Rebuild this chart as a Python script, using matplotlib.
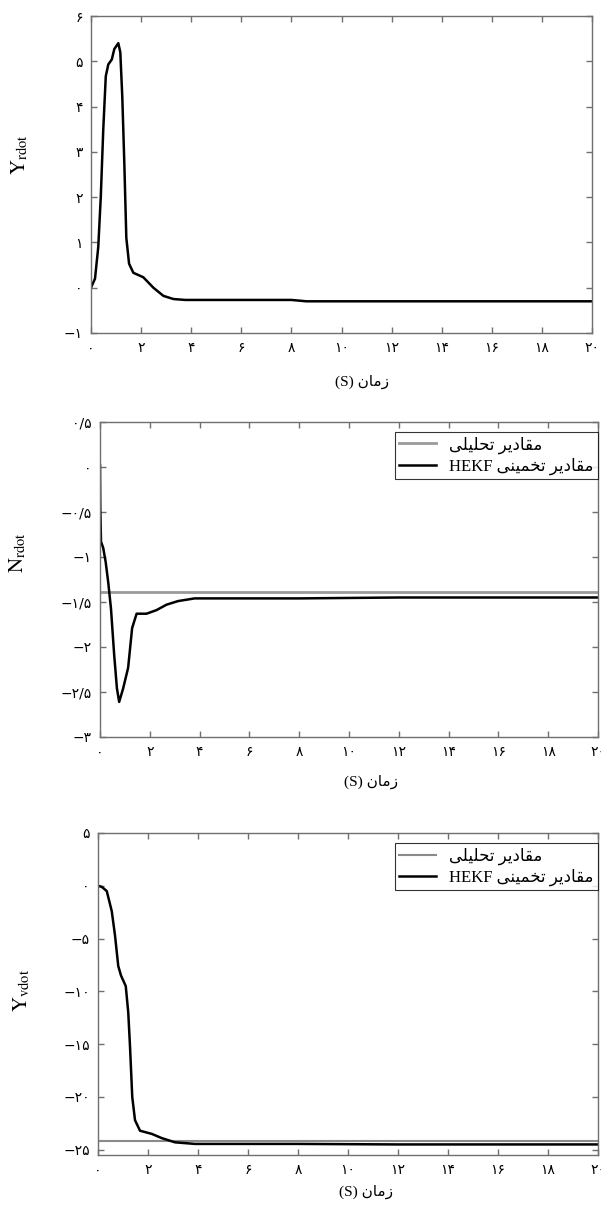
import matplotlib
matplotlib.use("Agg")
import matplotlib.pyplot as plt

# --- data ---
t_yr = [0, 0.16, 0.29, 0.39, 0.49, 0.59, 0.69, 0.83, 0.93, 1.09, 1.17, 1.25, 1.33, 1.41,
        1.52, 1.69, 2.09, 2.49, 2.89, 3.29, 3.76, 6.0, 8.0, 8.6, 20.0]
y_yr = [0, 0.2, 0.9, 2.0, 3.5, 4.67, 4.93, 5.04, 5.27, 5.4, 5.2, 4.2, 2.75, 1.1,
        0.53, 0.33, 0.23, 0.0, -0.18, -0.25, -0.27, -0.27, -0.27, -0.3, -0.3]

t_nr = [0, 0.01, 0.04, 0.13, 0.23, 0.33, 0.44, 0.57, 0.68, 0.77, 0.93, 1.13, 1.29, 1.47,
        1.87, 2.27, 2.67, 3.13, 3.8, 8.0, 12.0, 20.0]
y_nr = [0.02, -0.42, -0.83, -0.9, -1.06, -1.28, -1.57, -2.09, -2.46, -2.61, -2.46, -2.23,
        -1.79, -1.63, -1.63, -1.59, -1.53, -1.49, -1.46, -1.46, -1.45, -1.45]
nr_ref = -1.39

t_yv = [0, 0.15, 0.35, 0.55, 0.68, 0.81, 0.92, 1.11, 1.21, 1.28, 1.37, 1.48, 1.68, 2.15,
        2.55, 3.08, 3.88, 8.0, 12.0, 20.0]
y_yv = [0, -0.1, -0.5, -2.4, -4.7, -7.6, -8.5, -9.5, -12.0, -15.2, -20.0, -22.2, -23.2,
        -23.5, -23.9, -24.3, -24.45, -24.45, -24.5, -24.5]
yv_ref = -24.15

x_ticks = list(range(0, 21, 2))
yr_ticks = [-1, 0, 1, 2, 3, 4, 5, 6]
nr_ticks = [0.5, 0, -0.5, -1, -1.5, -2, -2.5, -3]
yv_ticks = [5, 0, -5, -10, -15, -20, -25]

# --- simple Persian shaping (matplotlib has no complex text layout) ---
FORMS = {
    'ا': ('\uFE8D', '\uFE8E', None, None),
    'ت': ('\uFE95', '\uFE96', '\uFE97', '\uFE98'),
    'ح': ('\uFEA1', '\uFEA2', '\uFEA3', '\uFEA4'),
    'خ': ('\uFEA5', '\uFEA6', '\uFEA7', '\uFEA8'),
    'د': ('\uFEA9', '\uFEAA', None, None),
    'ر': ('\uFEAD', '\uFEAE', None, None),
    'ز': ('\uFEAF', '\uFEB0', None, None),
    'ق': ('\uFED5', '\uFED6', '\uFED7', '\uFED8'),
    'ل': ('\uFEDD', '\uFEDE', '\uFEDF', '\uFEE0'),
    'م': ('\uFEE1', '\uFEE2', '\uFEE3', '\uFEE4'),
    'ن': ('\uFEE5', '\uFEE6', '\uFEE7', '\uFEE8'),
    'ی': ('\uFEEF', '\uFEF0', '\uFEF3', '\uFEF4'),
}


def rtl(text):
    out = []
    for i, c in enumerate(text):
        if c not in FORMS:
            out.append(c)
            continue
        prev = text[i - 1] if i > 0 else ''
        nxt = text[i + 1] if i + 1 < len(text) else ''
        pj = prev in FORMS and FORMS[prev][2] is not None
        nj = nxt in FORMS and FORMS[c][2] is not None
        iso, fin, ini, med = FORMS[c]
        if pj and nj:
            out.append(med)
        elif pj:
            out.append(fin)
        elif nj:
            out.append(ini)
        else:
            out.append(iso)
    return ''.join(out)[::-1]


FA = str.maketrans('0123456789.', '۰۱۲۳۴۵۶۷۸۹/')


def fa_num(v):
    s = ('%g' % abs(v)).translate(FA)
    return ('\u2212' + s) if v < 0 else s


plt.rcParams['mathtext.fontset'] = 'stix'
serif = ['Liberation Serif', 'DejaVu Sans']
xlab = '(S) ' + rtl('زمان')
lab_ref = rtl('مقادیر تحلیلی')
lab_est = 'HEKF ' + rtl('مقادیر تخمینی')

fig = plt.figure(figsize=(6.01, 12.09), dpi=100)
H = 1209.0
W = 601.0


def make_ax(l, r, top, bot):
    ax = fig.add_axes([l / W, 1 - bot / H, (r - l) / W, (bot - top) / H])
    for s in ax.spines.values():
        s.set_color('#707070')
        s.set_linewidth(1.0)
    ax.tick_params(direction='in', top=True, right=True, length=4, width=1,
                   color='#707070', labelsize=10, pad=6)
    ax.set_xlim(0, 20)
    ax.set_xticks(x_ticks)
    ax.set_xticklabels([fa_num(v) for v in x_ticks], family='DejaVu Sans')
    return ax


# top
ax1 = make_ax(91, 592, 16, 333)
ax1.plot(t_yr, y_yr, color='black', lw=1.8)
ax1.set_ylim(-1, 6)
ax1.set_yticks(yr_ticks)
ax1.set_yticklabels([fa_num(v) for v in yr_ticks], family='DejaVu Sans')
fig.text(20 / W, 1 - 155 / H, r'$\mathrm{Y}_{\mathrm{rdot}}$', rotation=90,
         ha='center', va='center', fontsize=15)
fig.text(362 / W, 1 - 382 / H, xlab, ha='center', va='center', fontsize=11, family=serif)

# middle
ax2 = make_ax(100, 598, 422, 737)
ax2.plot([0, 20], [nr_ref, nr_ref], color='#9a9a9a', lw=2, label=lab_ref)
ax2.plot(t_nr, y_nr, color='black', lw=1.8, label=lab_est)
ax2.set_ylim(-3, 0.5)
ax2.set_yticks(nr_ticks)
ax2.set_yticklabels([fa_num(v) for v in nr_ticks], family='DejaVu Sans')
fig.text(18 / W, 1 - 553 / H, r'$\mathrm{N}_{\mathrm{rdot}}$', rotation=90,
         ha='center', va='center', fontsize=15)
fig.text(371 / W, 1 - 782 / H, xlab, ha='center', va='center', fontsize=11, family=serif)

# bottom
ax3 = make_ax(98, 598, 833, 1155)
ax3.plot([0, 20], [yv_ref, yv_ref], color='#8a8a8a', lw=1.5, label=lab_ref)
ax3.plot(t_yv, y_yv, color='black', lw=1.8, label=lab_est)
ax3.set_ylim(-25.5, 5)
ax3.set_yticks(yv_ticks)
ax3.set_yticklabels([fa_num(v) for v in yv_ticks], family='DejaVu Sans')
fig.text(22 / W, 1 - 990 / H, r'$\mathrm{Y}_{\mathrm{vdot}}$', rotation=90,
         ha='center', va='center', fontsize=15)
fig.text(366 / W, 1 - 1192 / H, xlab, ha='center', va='center', fontsize=11, family=serif)

for ax in (ax2, ax3):
    leg = ax.legend(loc='upper right', bbox_to_anchor=(1.0, 0.968), fancybox=False,
                    edgecolor='black', prop={'family': serif, 'size': 12},
                    borderaxespad=0, handlelength=2.2, labelspacing=0.25,
                    borderpad=0.25)
    leg.get_frame().set_linewidth(0.8)

fig.savefig('out.png', dpi=100)
